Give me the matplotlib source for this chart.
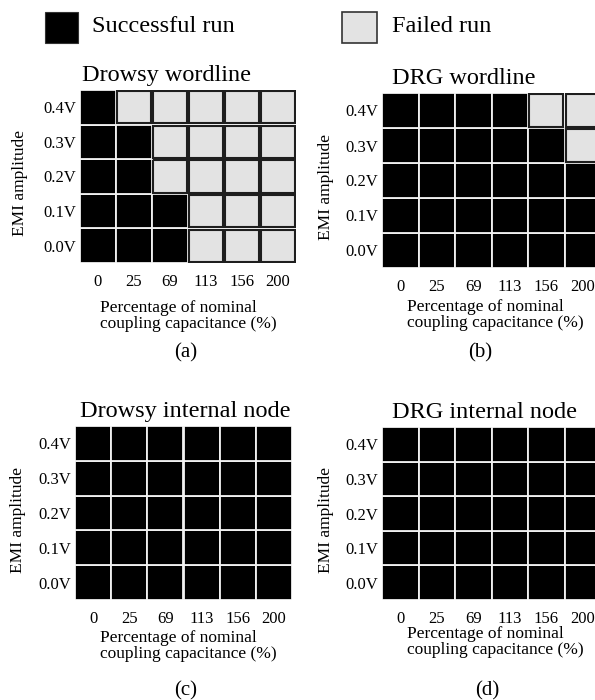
"""
emi_grid.py
"""

import numpy as np
import matplotlib.pyplot as plt
from matplotlib.patches import Rectangle

plt.rcParams["font.family"] = ["Liberation Serif", "DejaVu Serif"]

# coupling capacitance (% of nominal), left to right
caps = ["0", "25", "69", "113", "156", "200"]
# EMI amplitude, bottom row to top row
emi = ["0.0V", "0.1V", "0.2V", "0.3V", "0.4V"]

# 1 = successful run, 0 = failed run (rows follow emi order)
drowsy_wordline = [
    [1, 1, 1, 0, 0, 0],
    [1, 1, 1, 0, 0, 0],
    [1, 1, 0, 0, 0, 0],
    [1, 1, 0, 0, 0, 0],
    [1, 0, 0, 0, 0, 0],
]
drg_wordline = [
    [1, 1, 1, 1, 1, 1],
    [1, 1, 1, 1, 1, 1],
    [1, 1, 1, 1, 1, 1],
    [1, 1, 1, 1, 1, 0],
    [1, 1, 1, 1, 0, 0],
]
drowsy_internal = [[1, 1, 1, 1, 1, 1] for _ in emi]
drg_internal = [[1, 1, 1, 1, 1, 1] for _ in emi]

titles = ["Drowsy wordline", "DRG wordline", "Drowsy internal node", "DRG internal node"]
captions = ["(a)", "(b)", "(c)", "(d)"]

FAIL_COLOR = "#e3e3e3"
W, H = 595, 700


def px_box(left, top, right, bottom):
    """Pixel box -> figure fraction [x0, y0, w, h]."""
    return [left / W, 1 - bottom / H, (right - left) / W, (bottom - top) / H]


def draw_grid(ax, status, title, title_x, ylab_x, xlab_x, xlab_dy, box_h):
    status = np.array(status)
    for i in range(status.shape[0]):
        for j in range(status.shape[1]):
            if status[i, j]:
                ax.add_patch(Rectangle((j, i), 1, 1, facecolor="black",
                                       edgecolor="#f2f2f2", linewidth=1.3))
            else:
                ins = 0.035
                ax.add_patch(Rectangle((j + ins, i + ins), 1 - 2 * ins, 1 - 2 * ins,
                                       facecolor=FAIL_COLOR, edgecolor="#1e1e1e",
                                       linewidth=1.5))
    ax.set_xlim(0, len(caps))
    ax.set_ylim(0, len(emi))
    for s in ax.spines.values():
        s.set_visible(False)
    ax.set_xticks(np.arange(len(caps)) + 0.5)
    ax.set_xticklabels(caps, fontsize=12)
    ax.set_yticks(np.arange(len(emi)) + 0.5)
    ax.set_yticklabels(emi, fontsize=12)
    ax.tick_params(axis="both", length=0)
    ax.tick_params(axis="x", pad=8)
    ax.tick_params(axis="y", pad=3)
    ax.text(title_x, 1.0 + 14 / box_h, title, transform=ax.transAxes,
            ha="center", va="center", fontsize=17.5)
    ax.text(ylab_x, 0.46, "EMI amplitude", transform=ax.transAxes,
            rotation=90, ha="center", va="center", fontsize=12.5)
    ax.text(xlab_x, -xlab_dy / box_h, "Percentage of nominal\ncoupling capacitance (%)",
            transform=ax.transAxes, ha="left", va="center", multialignment="left",
            fontsize=12.5, linespacing=0.95)


fig = plt.figure(figsize=(5.95, 7), dpi=100)

boxes = [(80, 90, 296, 263), (382, 93, 601, 268), (75, 426, 292, 600), (382, 427, 601, 600)]
data = [drowsy_wordline, drg_wordline, drowsy_internal, drg_internal]
title_pos = [0.40, 0.375, 0.51, 0.47]
ylab_pos = [-0.278, -0.256, -0.263, -0.256]
xlab_pos = [0.093, 0.114, 0.115, 0.114]
xlab_dy = [53, 47, 46, 42]
caption_xy = [(186, 353), (480, 353), (186, 691), (487, 691)]

for k in range(4):
    b = boxes[k]
    ax = fig.add_axes(px_box(*b))
    draw_grid(ax, data[k], titles[k], title_pos[k], ylab_pos[k], xlab_pos[k],
              xlab_dy[k], b[3] - b[1])
    cx, cy = caption_xy[k]
    fig.text(cx / W, 1 - cy / H, captions[k], ha="center", va="center", fontsize=15)

# legend
fig.add_artist(Rectangle((45 / W, 1 - 43 / H), 33 / W, 31 / H, transform=fig.transFigure,
                         facecolor="black", edgecolor="#333333", linewidth=0.8))
fig.text(92 / W, 1 - 27 / H, "Successful run", ha="left", va="center", fontsize=17.5)
fig.add_artist(Rectangle((342 / W, 1 - 43 / H), 35 / W, 31 / H, transform=fig.transFigure,
                         facecolor=FAIL_COLOR, edgecolor="#333333", linewidth=1.2))
fig.text(392 / W, 1 - 27 / H, "Failed run", ha="left", va="center", fontsize=17.5)

fig.savefig("out.png", dpi=100)
plt.close(fig)
